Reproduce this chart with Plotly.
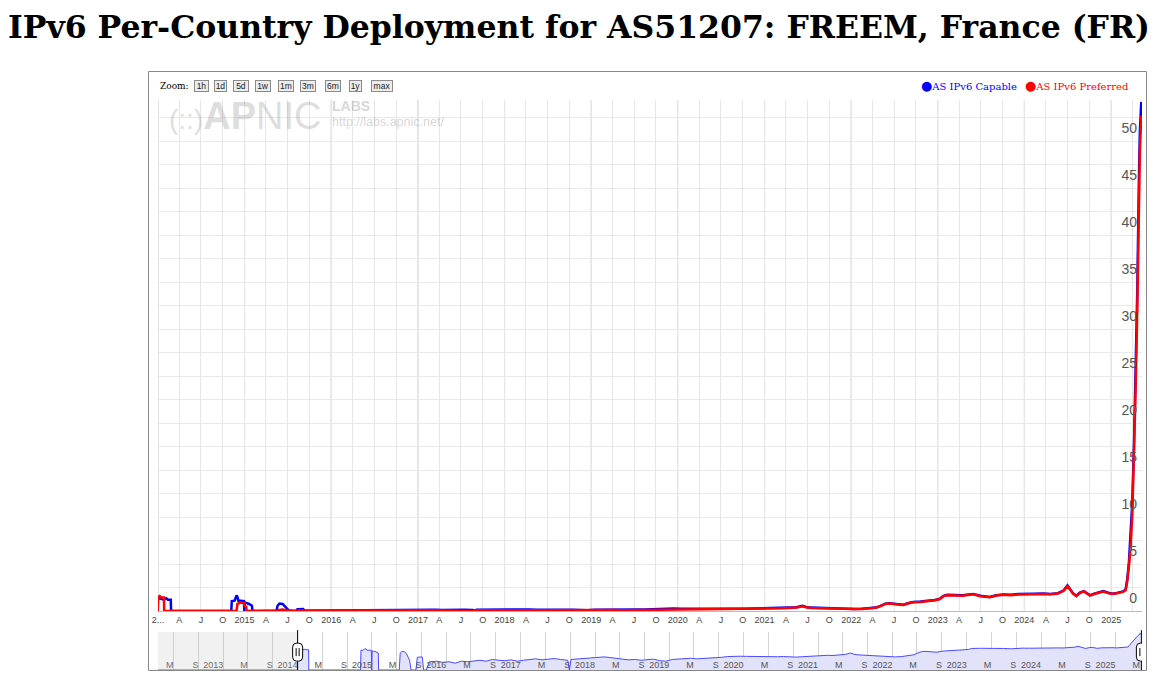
import math
import plotly.graph_objects as go

# ---------------- data (percent) ----------------
dates = [
    # 2012-2013
    "2012-02-15", "2013-12-31",
    # 2014
    "2014-01-01", "2014-01-08", "2014-01-15", "2014-01-26", "2014-01-27", "2014-02-05",
    "2014-02-12", "2014-02-24", "2014-02-25", "2014-11-06", "2014-11-08", "2014-11-20",
    "2014-11-28", "2014-12-02", "2014-12-06", "2014-12-15", "2014-12-29", "2014-12-31",
    # 2015
    "2015-01-02", "2015-01-08", "2015-01-09", "2015-01-20", "2015-02-01", "2015-02-03",
    "2015-05-15", "2015-05-20", "2015-05-28", "2015-06-10", "2015-06-20", "2015-07-05",
    "2015-07-12", "2015-08-05", "2015-08-12", "2015-09-05", "2015-09-12", "2015-09-25",
    "2015-10-10", "2015-11-15", "2015-12-15",
    # 2016
    "2016-01-15", "2016-02-15", "2016-03-15", "2016-04-15", "2016-05-15", "2016-06-15",
    "2016-07-15", "2016-08-15", "2016-09-15", "2016-10-15", "2016-11-15", "2016-12-15",
    # 2017
    "2017-01-15", "2017-02-15", "2017-03-15", "2017-04-15", "2017-05-15", "2017-06-15",
    "2017-07-15", "2017-08-20", "2017-08-28", "2017-09-05", "2017-10-15", "2017-11-15",
    "2017-12-15",
    # 2018
    "2018-01-15", "2018-02-15", "2018-03-15", "2018-04-15", "2018-05-15", "2018-06-15",
    "2018-07-15", "2018-08-15", "2018-09-15", "2018-10-15", "2018-11-15", "2018-12-15",
    # 2019
    "2019-01-15", "2019-02-15", "2019-03-15", "2019-04-15", "2019-05-15", "2019-06-15",
    "2019-07-15", "2019-08-15", "2019-09-15", "2019-10-15", "2019-11-15", "2019-12-15",
    # 2020
    "2020-01-15", "2020-02-15", "2020-03-15", "2020-04-15", "2020-05-15", "2020-06-15",
    "2020-07-15", "2020-08-15", "2020-09-15", "2020-10-15", "2020-11-15", "2020-12-15",
    # 2021
    "2021-01-15", "2021-02-15", "2021-03-15", "2021-04-15", "2021-05-15", "2021-06-10",
    "2021-06-25", "2021-07-15", "2021-08-15", "2021-09-15", "2021-10-15", "2021-11-15",
    "2021-12-15",
    # 2022
    "2022-01-15", "2022-02-15", "2022-03-15", "2022-04-15", "2022-05-05", "2022-05-25",
    "2022-06-10", "2022-07-10", "2022-08-08", "2022-09-01", "2022-09-20", "2022-10-20",
    "2022-11-20", "2022-12-20",
    # 2023
    "2023-01-10", "2023-01-25", "2023-02-10", "2023-03-10", "2023-04-15", "2023-05-30",
    "2023-06-30", "2023-08-08", "2023-09-05", "2023-10-05", "2023-11-05", "2023-12-05",
    # 2024
    "2024-01-10", "2024-02-10", "2024-03-22", "2024-04-20", "2024-05-22", "2024-06-15",
    "2024-07-01", "2024-07-12", "2024-07-24", "2024-08-07", "2024-08-22", "2024-09-08",
    "2024-09-22", "2024-10-04", "2024-10-25", "2024-11-29", "2024-12-20",
    # 2025
    "2025-01-05", "2025-01-25", "2025-02-20", "2025-03-03", "2025-03-10", "2025-03-17",
    "2025-03-24", "2025-03-31", "2025-04-07", "2025-04-14", "2025-04-21", "2025-04-28",
    "2025-05-02", "2025-05-08",
]

capable = [
    0, 0,
    1.40, 1.35, 1.25, 1.20, 1.20, 1.35, 1.20, 1.20, 0, 0, 1.05, 1.10, 1.65, 1.50, 1.10, 1.10, 1.05, 0,
    0.90, 0.85, 0.85, 0.75, 0.55, 0, 0, 0.55, 0.80, 0.75, 0.45, 0.10, 0, 0, 0.20, 0.22, 0, 0,
    0.07, 0.08, 0.06,
    0.07, 0.05, 0.08, 0.07, 0.09, 0.10, 0.08, 0.12, 0.10, 0.09, 0.11, 0.08,
    0.10, 0.12, 0.14, 0.11, 0.13, 0.15, 0.12, 0.10, 0.01, 0.12, 0.14, 0.16, 0.18,
    0.20, 0.22, 0.19, 0.17, 0.13, 0.11, 0.12, 0.10, 0.12, 0.13, 0.09, 0.08,
    0.12, 0.14, 0.15, 0.16, 0.14, 0.15, 0.17, 0.16, 0.20, 0.24, 0.27, 0.26,
    0.25, 0.24, 0.27, 0.26, 0.25, 0.23, 0.24, 0.22, 0.21, 0.23, 0.26, 0.28,
    0.30, 0.32, 0.31, 0.35, 0.40, 0.55, 0.42, 0.36, 0.33, 0.28, 0.26, 0.25, 0.24,
    0.22, 0.24, 0.28, 0.36, 0.55, 0.78, 0.82, 0.72, 0.67, 0.85, 0.95, 1.00, 1.08, 1.17,
    1.30, 1.62, 1.72, 1.70, 1.67, 1.82, 1.62, 1.50, 1.68, 1.76, 1.72, 1.80,
    1.78, 1.83, 1.85, 1.82, 1.90, 2.20, 2.72, 2.35, 1.90, 1.62, 1.95, 2.12, 1.85, 1.68, 1.88, 2.12, 1.95,
    1.84, 1.92, 2.08, 2.30, 3.40, 5.20, 7.80, 11.5, 17.5, 25.5, 34.0, 46.0, 51.0, 54.2,
]

preferred = [
    0, 0,
    1.50, 1.60, 1.45, 1.45, 0, 0, 0, 0, 0, 0, 0, 0, 0, 0.75, 0.80, 0.90, 0.85, 0.85,
    0.55, 0.50, 0, 0, 0, 0, 0, 0.05, 0.10, 0.15, 0.10, 0.05, 0, 0, 0.05, 0.05, 0, 0,
    0.03, 0.04, 0.03,
    0.04, 0.03, 0.05, 0.04, 0.05, 0.06, 0.05, 0.08, 0.07, 0.06, 0.08, 0.06,
    0.07, 0.08, 0.09, 0.07, 0.08, 0.09, 0.08, 0.06, 0.0, 0.07, 0.08, 0.09, 0.10,
    0.12, 0.12, 0.11, 0.10, 0.08, 0.07, 0.08, 0.07, 0.08, 0.09, 0.06, 0.06,
    0.08, 0.09, 0.10, 0.10, 0.09, 0.10, 0.11, 0.11, 0.12, 0.13, 0.14, 0.14,
    0.13, 0.14, 0.15, 0.16, 0.16, 0.15, 0.17, 0.16, 0.17, 0.18, 0.21, 0.23,
    0.26, 0.28, 0.28, 0.32, 0.36, 0.50, 0.39, 0.33, 0.30, 0.26, 0.24, 0.23, 0.22,
    0.20, 0.22, 0.26, 0.34, 0.53, 0.75, 0.79, 0.69, 0.65, 0.82, 0.92, 0.97, 1.05, 1.14,
    1.27, 1.58, 1.68, 1.66, 1.63, 1.78, 1.58, 1.46, 1.64, 1.72, 1.68, 1.76,
    1.74, 1.79, 1.81, 1.78, 1.86, 2.15, 2.66, 2.30, 1.86, 1.58, 1.90, 2.08, 1.80, 1.64, 1.84, 2.08, 1.90,
    1.80, 1.88, 2.04, 2.20, 3.20, 4.80, 6.90, 10.2, 15.8, 23.5, 32.0, 44.0, 49.0, 52.7,
]

series_names = ["AS IPv6 Capable", "AS IPv6 Preferred"]
series_colors = ["#0000ff", "#ff0000"]

# ---------------- axis ticks ----------------
axis_years = list(range(2014, 2026))
quarter_letters = {1: None, 4: "A", 7: "J", 10: "O"}
nav_years = list(range(2012, 2026))
nav_letters = {1: None, 5: "M", 9: "S"}
zoom_buttons = ["1h", "1d", "5d", "1w", "1m", "3m", "6m", "1y", "max"]

main_start = "2014-01-01"
main_end = "2025-05-11"
nav_start = dates[0]
nav_end = main_end

main_tickvals, main_ticktext = [], []
for yr in axis_years:
    for m, letter in quarter_letters.items():
        d = f"{yr}-{m:02d}-01"
        if d > main_end:
            continue
        main_tickvals.append(d)
        if letter is None:
            main_ticktext.append("2..." if yr == axis_years[0] else str(yr))
        else:
            main_ticktext.append("" if yr == axis_years[-1] else letter)

nav_tickvals, nav_ticktext = [], []
for yr in nav_years:
    for m, letter in nav_letters.items():
        d = f"{yr}-{m:02d}-01"
        if d < nav_start or d > nav_end:
            continue
        nav_tickvals.append(d)
        nav_ticktext.append(str(yr) if letter is None else letter)

# ---------------- figure ----------------
W, H = 1156, 688
OX, OY = 8, 8  # page body offset compensation


def px(x):
    return (x - OX) / W


def py(y):
    return 1 - (y - OY) / H


fig = go.Figure()
for vals, name, col in zip([capable, preferred], series_names, series_colors):
    fig.add_trace(go.Scatter(
        x=dates, y=vals, mode="lines", name=name,
        line=dict(color=col, width=2.5), xaxis="x", yaxis="y",
    ))

nav_vals = [math.log10(max(v, 0.01)) + 2 for v in capable]
fig.add_trace(go.Scatter(
    x=dates, y=nav_vals, mode="lines", line=dict(color="#4a4aff", width=1),
    fill="tozeroy", fillcolor="#e2e2fb", xaxis="x2", yaxis="y2",
    hoverinfo="skip", showlegend=False,
))

shapes = []
# outer frame
shapes.append(dict(type="rect", xref="paper", yref="paper",
                   x0=px(148.5), x1=px(1146.5), y0=py(670.5), y1=py(71.5),
                   line=dict(color="#888888", width=1), layer="below"))
# year gridlines on main chart
for yr in axis_years:
    shapes.append(dict(type="line", xref="x", yref="y domain",
                       x0=f"{yr}-01-01", x1=f"{yr}-01-01", y0=0, y1=1,
                       line=dict(color="#c8c8c8", width=1), layer="below"))
# navigator mask for unselected range
shapes.append(dict(type="rect", xref="x2", yref="y2 domain",
                   x0=nav_start, x1=main_start, y0=0, y1=1,
                   fillcolor="rgba(190,190,190,0.22)", line=dict(width=0), layer="above"))
# navigator handles
for hx in [main_start, dates[-1]]:
    shapes.append(dict(type="line", xref="x2", yref="y2 domain",
                       x0=hx, x1=hx, y0=0, y1=1.05,
                       line=dict(color="#000000", width=1), layer="above"))
    shapes.append(dict(type="path", xref="x2", yref="y2 domain",
                       xsizemode="pixel", ysizemode="pixel", xanchor=hx, yanchor=0.47,
                       path="M-5,-5 L-5,5 Q-5,9 -1,9 L1,9 Q5,9 5,5 L5,-5 Q5,-9 1,-9 L-1,-9 Q-5,-9 -5,-5 Z",
                       fillcolor="#ffffff", line=dict(color="#000000", width=1), layer="above"))
    shapes.append(dict(type="path", xref="x2", yref="y2 domain",
                       xsizemode="pixel", ysizemode="pixel", xanchor=hx, yanchor=0.47,
                       path="M-1.5,-4 L-1.5,4 M1.5,-4 L1.5,4",
                       line=dict(color="#000000", width=1), layer="above"))

annotations = []
# Zoom label and buttons
annotations.append(dict(xref="paper", yref="paper", x=px(158), y=py(85.5), xanchor="left",
                        yanchor="middle", showarrow=False, text="Zoom:",
                        font=dict(family="DejaVu Serif", size=9, color="#000000")))
btn_centers = [201.3, 220.3, 241, 263, 286, 308, 332.7, 355, 382]
btn_widths = [13, 11, 14, 14, 14, 14, 14, 11, 20]
for label, cx, bw in zip(zoom_buttons, btn_centers, btn_widths):
    annotations.append(dict(xref="paper", yref="paper", x=px(cx), y=py(85.5),
                            xanchor="center", yanchor="middle", showarrow=False,
                            text=label, width=bw, height=10, borderpad=0, borderwidth=1,
                            bordercolor="#8a8a8a", bgcolor="#ececec",
                            font=dict(family="Liberation Sans", size=8.5, color="#222222")))
# legend
for name, col, lx in zip(series_names, series_colors, [919, 1023]):
    annotations.append(dict(xref="paper", yref="paper", x=px(lx), y=py(85.5),
                            xanchor="left", yanchor="middle", showarrow=False,
                            text=f"<span style='font-size:13px'>●</span>{name}",
                            font=dict(family="DejaVu Serif", size=10, color=col)))
# watermark
annotations.append(dict(xref="paper", yref="paper", x=px(167), y=py(116), xanchor="left",
                        yanchor="middle", showarrow=False,
                        text="<span style='font-size:28px'>(::)</span><b>AP</b>NIC",
                        font=dict(family="Liberation Sans", size=38, color="rgba(150,150,150,0.32)")))
annotations.append(dict(xref="paper", yref="paper", x=px(330), y=py(106), xanchor="left",
                        yanchor="middle", showarrow=False, text="<b>LABS</b>",
                        font=dict(family="Liberation Sans", size=14, color="rgba(150,150,150,0.40)")))
annotations.append(dict(xref="paper", yref="paper", x=px(330), y=py(121.5), xanchor="left",
                        yanchor="middle", showarrow=False, text="http://labs.apnic.net/",
                        font=dict(family="Liberation Sans", size=12.5, color="rgba(150,150,150,0.40)")))

fig.update_layout(
    width=W, height=H, autosize=False,
    margin=dict(l=0, r=0, t=0, b=0, pad=0, autoexpand=False),
    paper_bgcolor="#ffffff", plot_bgcolor="#ffffff",
    showlegend=False, hovermode="x",
    title=dict(text="IPv6 Per-Country Deployment for AS51207: FREEM, France (FR)",
               x=0, xanchor="left", y=py(27), yanchor="middle", automargin=False,
               font=dict(family="DejaVu Serif", size=31.5, color="#000000", weight="bold")),
    xaxis=dict(domain=[px(158), px(1142)], anchor="y", type="date", automargin=False,
               range=[main_start, main_end], tickmode="array",
               tickvals=main_tickvals, ticktext=main_ticktext, ticks="",
               tickfont=dict(family="Liberation Sans", size=9, color="#444444"),
               showgrid=True, gridcolor="#e6e6e6", gridwidth=1,
               showline=True, linecolor="#bbbbbb", linewidth=1, zeroline=False),
    yaxis=dict(domain=[py(611), py(100)], anchor="x", range=[0, 54.4], automargin=False,
               side="right", ticklabelposition="inside top", tick0=0, dtick=5,
               ticklabelshift=-3, ticklabelstandoff=2, ticklabeloverflow="allow", ticks="",
               tickfont=dict(family="Liberation Sans", size=14, color="#555555"),
               showgrid=True, gridcolor="#e8e8f0", gridwidth=1,
               minor=dict(dtick=2.5, showgrid=True, gridcolor="#e8e8f0", gridwidth=1),
               zeroline=False, showline=False),
    xaxis2=dict(domain=[px(158), px(1142)], anchor="y2", type="date", automargin=False,
                range=[nav_start, nav_end], tickmode="array",
                tickvals=nav_tickvals, ticktext=nav_ticktext, ticks="",
                ticklabelposition="inside left", ticklabelstandoff=-6,
                tickfont=dict(family="Liberation Sans", size=9, color="#555555"),
                showgrid=True, gridcolor="#d4d4d4", gridwidth=1,
                showline=False, zeroline=False, fixedrange=True),
    yaxis2=dict(domain=[py(670), py(632)], anchor="x2", range=[0, 3.9],
                visible=False, fixedrange=True, automargin=False),
    shapes=shapes,
    annotations=annotations,
)

fig.write_html("out.html")
